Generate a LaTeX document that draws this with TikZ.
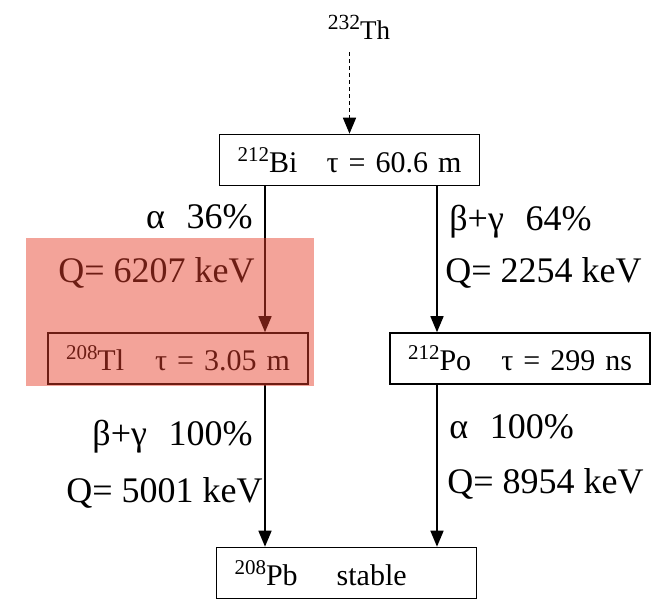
\documentclass[tikz,border=0pt]{standalone}
\usepackage{fontspec}
\setmainfont{Liberation Serif}
\usepackage{graphicx}
\usetikzlibrary{arrows.meta}

% isotope with raised mass number
\newcommand\iso[3][0.7]{\raisebox{0.36em}{\scalebox{#1}{#2}}#3}
% gap between decay mode and branching ratio
\newcommand\brgap{\hspace{0.6em}}

\begin{document}
\begin{tikzpicture}[
  x=0.5pt, y=-0.5pt,
  every node/.style={font=\fontsize{15}{18}\selectfont},
  nuc/.style={
    draw=black,
    line width=0.8pt,
    align=left,
    text width=112pt,
    inner xsep=9pt,
    inner ysep=0pt,
    minimum height=25.5pt
  },
  lab/.style={inner sep=0pt, font=\fontsize{18}{21}\selectfont},
  arr/.style={-{Triangle[width=6.5pt,length=8pt]}, line width=0.8pt, draw=black},
  chain/.style={arr, dash pattern=on 2pt off 1.5pt},
  hilite/.style={fill={rgb,255:red,229;green,62;blue,42}, fill opacity=0.48}
]
\useasboundingbox (0,0) rectangle (654,600);

\node[font=\fontsize{13.5}{16}\selectfont, anchor=base, inner xsep=0pt, inner ysep=6.5pt] (th) at (359,39) {\iso[0.8]{232}{Th}};

\node[nuc] (bi) at (349.5,160) {\iso{212}{Bi}\hfill τ = 60.6 m};
\node[nuc] (tl) at (178,358.5) {\iso{208}{Tl}\hfill τ = 3.05 m};
\node[nuc] (po) at (520,358.5) {\iso{212}{Po}\hfill τ = 299 ns};
\node[nuc] (pb) at (346.5,573) {\iso{208}{Pb}\hspace{1.3em}stable};

% the two decay branches run down these verticals
\coordinate (lx) at (265,0);
\coordinate (rx) at (437,0);

\draw[chain] (th.south -| bi.north) -- (bi.north);
\draw[arr] (bi.south -| lx) -- (tl.north -| lx);
\draw[arr] (bi.south -| rx) -- (po.north -| rx);
\draw[arr] (tl.south -| lx) -- (pb.north -| lx);
\draw[arr] (po.south -| rx) -- (pb.north -| rx);

\node[lab, anchor=base east] (a36) at (253,228) {α\brgap 36\%};
\node[lab, anchor=base east] (q6207) at (255,282) {Q= 6207 keV};
\node[lab, anchor=base west] (b64) at (449,230) {β+γ\brgap 64\%};
\node[lab, anchor=base west] (q2254) at (445,282) {Q= 2254 keV};
\node[lab, anchor=base east] (b100) at (253,445) {β+γ\brgap 100\%};
\node[lab, anchor=base east] (q5001) at (263,502) {Q= 5001 keV};
\node[lab, anchor=base west] (a100) at (449,438) {α\brgap 100\%};
\node[lab, anchor=base west] (q8954) at (447,493) {Q= 8954 keV};

\fill[hilite] (26,238) rectangle (314,386);

\end{tikzpicture}
\end{document}
